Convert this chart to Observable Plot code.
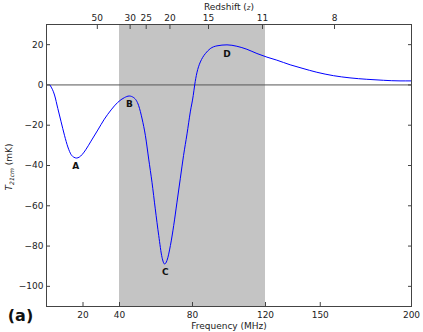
<!DOCTYPE html>
<html>
<head>
<meta charset="utf-8">
<script src="https://cdn.jsdelivr.net/npm/d3@7"></script>
<script src="https://cdn.jsdelivr.net/npm/@observablehq/plot@0.6"></script>
<style>
  html, body { margin: 0; padding: 0; background: #fff; }
  #chart { width: 423px; height: 332px; }
  svg { font-family: "DejaVu Sans", sans-serif; }
</style>
</head>
<body>
<div id="chart"></div>
<script>
// Frequency (MHz) and brightness temperature (mK)
const freq = [2, 4.4, 6.2, 8, 9.85, 11.7, 13.5, 15, 16.5, 18, 19.5, 21.7, 24.4, 28.1, 31.7, 35.4, 39, 42.7, 45.3, 47.8, 50.5, 52.4, 54.2, 56, 57.8, 59.6, 61.5, 63.3, 64.7, 66, 67.9, 69.7, 71.5, 73.3, 75.1, 77, 78.8, 80.4, 81.2, 82.4, 83.3, 84.3, 85.6, 87, 89.7, 93.4, 98.9, 104.3, 109.8, 115.3, 120.8, 126.2, 133.5, 140, 148.1, 157.2, 166.3, 175.5, 184.6, 193.7, 200];
const temp = [-0.2, -5, -11.7, -18.3, -25, -30.8, -34.6, -35.9, -36.3, -35.8, -34.6, -31.9, -27.9, -22.4, -17, -12.4, -8.7, -6.3, -5.5, -6.3, -10.3, -16.9, -25.2, -36.8, -48.3, -61.5, -74.8, -85.6, -88.9, -87.2, -79.7, -69.8, -58.2, -46.6, -35, -24.3, -13.4, -5.3, 0, 6, 9, 11.4, 13.7, 15.5, 18, 19.4, 19.9, 19.2, 17.7, 15.6, 13.8, 12.3, 10, 8.3, 6.3, 4.6, 3.5, 2.8, 2.3, 2, 2];

// Shaded band (MHz)
const bandStart = [40];
const bandEnd = [120];

// Feature labels
const featureNames = ["A", "B", "C", "D"];
const featureFreq = [16, 45.4, 65.1, 98.9];
const featureTemp = [-40.5, -9.7, -93, 15.5];

// Axis ticks
const freqTicks = [20, 40, 80, 120, 150, 200];
const tempTicks = [-100, -80, -60, -40, -20, 0, 20];
const redshiftTicks = [50, 30, 25, 20, 15, 11, 8];
const nu21 = 1420.4;

const curve = freq.map((f, i) => ({f, t: temp[i]}));
const band = bandStart.map((s, i) => ({x1: s, x2: bandEnd[i]}));
const features = featureNames.map((n, i) => ({n, f: featureFreq[i], t: featureTemp[i]}));
const zFreq = redshiftTicks.map(z => nu21 / (1 + z));

const chart = Plot.plot({
  width: 423,
  height: 332,
  marginLeft: 46,
  marginRight: 12,
  marginTop: 24,
  marginBottom: 26,
  style: {fontFamily: "DejaVu Sans, sans-serif", fontSize: "9px", color: "#222", background: "#fff"},
  x: {domain: [0, 200]},
  y: {domain: [-110, 30]},
  marks: [
    Plot.rect(band, {x1: "x1", x2: "x2", fill: "#c4c4c4"}),
    Plot.ruleY([0], {stroke: "#555", strokeWidth: 1}),
    Plot.line(curve, {x: "f", y: "t", stroke: "#0000ff", strokeWidth: 1, curve: "monotone-x"}),
    Plot.text(features, {x: "f", y: "t", text: "n", fontWeight: "bold", fontSize: 9, fill: "#111"}),
    Plot.axisX(freqTicks, {anchor: "bottom", tickSize: -4, tickPadding: 9, label: null, stroke: "#444"}),
    Plot.axisX(zFreq, {anchor: "top", tickSize: -4, tickPadding: 8, label: null, stroke: "#444",
      tickFormat: d => String(Math.round(nu21 / d - 1))}),
    Plot.axisY(tempTicks, {anchor: "left", tickSize: -4, tickPadding: 7, label: null, stroke: "#444",
      tickFormat: d => d < 0 ? "\u2212" + Math.abs(d) : String(d)}),
    Plot.axisY(tempTicks, {anchor: "right", tickSize: -4, label: null, stroke: "#444", tickFormat: () => ""}),
    Plot.frame({stroke: "#444"}),
    Plot.text(["Frequency (MHz)"], {frameAnchor: "bottom", dy: 22, fontSize: 9, fill: "#222"}),
    Plot.text(["(a)"], {frameAnchor: "bottom-left", textAnchor: "middle", dx: -26, dy: 14, fontSize: 16, fontWeight: "bold", fill: "#111"})
  ]
});

const svg = d3.select(chart.tagName.toLowerCase() === "svg" ? chart : chart.querySelector("svg"));
// Top title: Redshift (z)
svg.append("text")
  .attr("x", 229).attr("y", 10)
  .attr("text-anchor", "middle")
  .attr("font-size", 9).attr("fill", "#222")
  .text("Redshift (")
  .append("tspan").attr("font-style", "italic").attr("font-size", 7).text("z")
  .select(function() { return this.parentNode; })
  .append("tspan").text(")");
// Y label: T_21cm (mK)
const yl = svg.append("text")
  .attr("transform", "translate(12,167) rotate(-90)")
  .attr("text-anchor", "middle")
  .attr("font-size", 9).attr("fill", "#222");
yl.append("tspan").attr("font-style", "italic").text("T");
yl.append("tspan").attr("font-style", "italic").attr("font-size", 6).attr("dy", 2).text("21cm");
yl.append("tspan").attr("dy", -2).text(" (mK)");

document.getElementById("chart").appendChild(chart);
</script>
</body>
</html>
